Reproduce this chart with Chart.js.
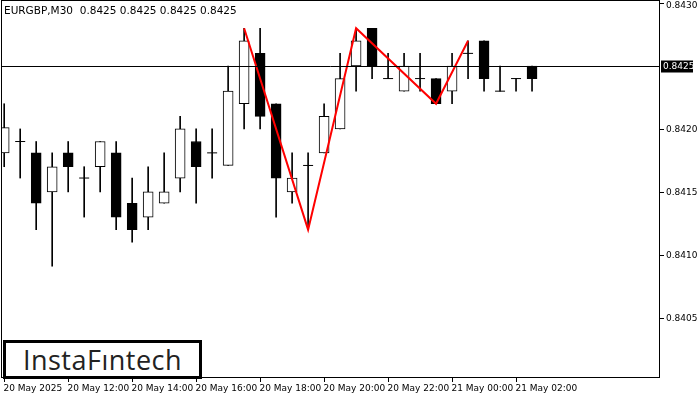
<!DOCTYPE html>
<html>
<head>
<meta charset="utf-8">
<script src="https://cdn.jsdelivr.net/npm/chart.js@4.4.0/dist/chart.umd.min.js"></script>
<style>
  body { margin: 0; background: #fff; }
  #wrap { position: relative; width: 700px; height: 400px; }
  #title { position: absolute; left: 4px; top: 4px; font: 10.5px "DejaVu Sans", sans-serif; color: #000; }
  #logo { position: absolute; left: 3px; top: 340px; width: 193px; height: 33px; border: 3px solid #000; background: #fff;
          font: 27px "Open Sans", sans-serif; color: #222; text-align: center; line-height: 33px; letter-spacing: 0.5px; }
</style>
</head>
<body>
<div id="wrap">
  <canvas id="chart-canvas" width="700" height="400"></canvas>
  <div id="title">EURGBP,M30&nbsp; 0.8425 0.8425 0.8425 0.8425</div>
  <div id="logo">InstaFıntech</div>
</div>
<script>
// OHLC in 0.00001 units
let opens  = [84181,84190,84181,84150,84181,84161,84170,84181,84141,84130,84141,84161,84190,84181,84171,84220,84260,84220,84150,84171,84181,84200,84250,84280,84240,84230,84240,84240,84230,84260,84270,84230,84240,84250];
let closes = [84201,84190,84141,84170,84170,84161,84190,84130,84120,84150,84150,84200,84170,84181,84230,84270,84210,84161,84161,84171,84210,84240,84270,84250,84240,84250,84240,84220,84250,84260,84240,84230,84240,84240];
let highs  = [84220,84200,84190,84181,84190,84170,84190,84190,84161,84170,84181,84210,84200,84200,84250,84280,84280,84220,84181,84181,84220,84260,84280,84280,84260,84260,84260,84240,84260,84270,84270,84250,84240,84250];
let lows   = [84170,84161,84120,84091,84150,84130,84150,84120,84110,84120,84141,84150,84141,84161,84171,84200,84200,84130,84141,84120,84181,84200,84230,84240,84240,84230,84230,84220,84220,84240,84230,84230,84230,84230];

let patternIdx = [15, 19, 22, 27, 29];
let patternVal = [84280, 84120, 84280, 84220, 84270];

let tickIdx = [0, 4, 8, 12, 16, 20, 24, 28, 32];
let tickLabels = ["20 May 2025","20 May 12:00","20 May 14:00","20 May 16:00","20 May 18:00","20 May 20:00","20 May 22:00","21 May 00:00","21 May 02:00"];
let priceTicks = [0.8405, 0.8410, 0.8415, 0.8420, 0.8430];
let lastPrice = 0.8425;

function p(v) { return v / 100000; }

let wicks = [], bodies = [], bodyColors = [], dojis = [], pattern = [];
for (let i = 0; i < opens.length; i++) {
  wicks.push({ x: i, y: [p(lows[i]), p(highs[i])] });
  if (opens[i] == closes[i]) {
    dojis.push({ x: i, y: p(opens[i]) });
  } else {
    bodies.push({ x: i, y: [p(opens[i]), p(closes[i])] });
    bodyColors.push(closes[i] > opens[i] ? "#fff" : "#000");
  }
}
for (let j = 0; j < patternIdx.length; j++) {
  pattern.push({ x: patternIdx[j], y: p(patternVal[j]) });
}

const frame = {
  id: "frame",
  afterDatasetsDraw(c) {
    let ctx = c.ctx, a = c.chartArea;
    let y = Math.round(c.scales.y.getPixelForValue(lastPrice)) + 0.5;
    ctx.save();
    ctx.strokeStyle = "#000"; ctx.lineWidth = 1;
    ctx.beginPath(); ctx.moveTo(a.left, y); ctx.lineTo(a.right, y); ctx.stroke();
    ctx.strokeRect(a.left + 0.5, a.top + 0.5, a.right - a.left - 1, a.bottom - a.top - 1);
    ctx.font = "9px 'DejaVu Sans'"; ctx.fillStyle = "#000";
    // x ticks + labels
    ctx.textBaseline = "top";
    for (let k = 0; k < tickIdx.length; k++) {
      let x = Math.round(c.scales.x.getPixelForValue(tickIdx[k])) + 0.5;
      ctx.beginPath(); ctx.moveTo(x, a.bottom); ctx.lineTo(x, a.bottom + 4); ctx.stroke();
      ctx.fillText(tickLabels[k], x - 1, a.bottom + 6);
    }
    // y ticks + labels
    ctx.textBaseline = "middle";
    for (let k = 0; k < priceTicks.length; k++) {
      let yy = Math.round(c.scales.y.getPixelForValue(priceTicks[k])) + 0.5;
      ctx.beginPath(); ctx.moveTo(a.right, yy); ctx.lineTo(a.right + 4, yy); ctx.stroke();
      ctx.fillText(priceTicks[k].toFixed(4), a.right + 6, Math.max(yy, 6));
    }
    // last price box
    ctx.fillStyle = "#000"; ctx.fillRect(a.right + 1, y - 6, 32, 12);
    ctx.fillStyle = "#fff";
    ctx.fillText(lastPrice.toFixed(4), a.right + 3, y);
    ctx.restore();
  }
};

new Chart(document.getElementById("chart-canvas"), {
  type: "bar",
  data: {
    datasets: [
      { type: "line", data: pattern, borderColor: "#f00", borderWidth: 2, pointRadius: 0, order: 0 },
      { type: "line", data: dojis, showLine: false, pointStyle: "line", pointRadius: 5, borderColor: "#000", borderWidth: 1, order: 1 },
      { data: bodies, backgroundColor: bodyColors, borderColor: "#000", borderWidth: 1, borderSkipped: false, barThickness: 10, grouped: false, order: 2 },
      { data: wicks, backgroundColor: "#000", borderWidth: 0, barThickness: 1, grouped: false, order: 3 },
    ],
  },
  options: {
    animation: false,
    responsive: false,
    layout: { autoPadding: false, padding: { top: 0, left: 1 } },
    plugins: { legend: { display: false }, tooltip: { enabled: false } },
    scales: {
      x: {
        type: "linear", min: -0.2, max: 41, offset: false,
        grid: { display: false },
        border: { display: false },
        afterFit: (s) => { s.height = 22; },
        ticks: { display: false },
      },
      y: {
        position: "right", min: 0.840022, max: 0.843024,
        grid: { display: false },
        border: { display: false },
        afterFit: (s) => { s.width = 40; },
        ticks: { display: false },
      },
    },
  },
  plugins: [frame],
});
</script>
</body>
</html>
